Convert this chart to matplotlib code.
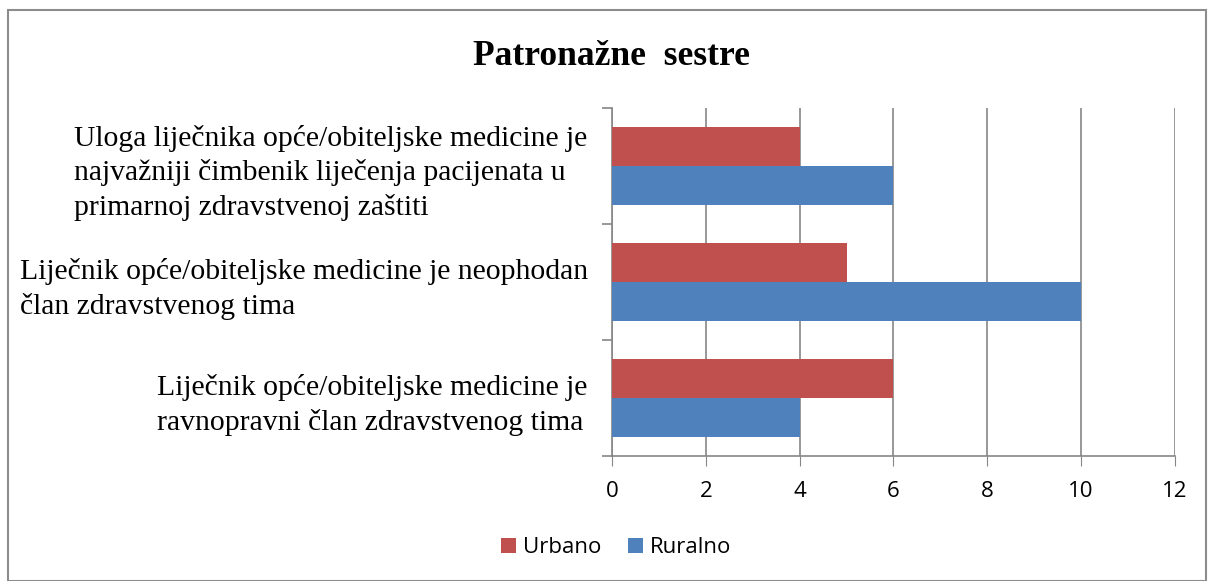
import matplotlib.pyplot as plt
import numpy as np
from matplotlib.patches import Rectangle

# Categories (bottom to top)
categories = [
    'Liječnik opće/obiteljske medicine je\nravnopravni član zdravstvenog tima',
    'Liječnik opće/obiteljske medicine je neophodan\nčlan zdravstvenog tima',
    'Uloga liječnika opće/obiteljske medicine je\nnajvažniji čimbenik liječenja pacijenata u\nprimarnoj zdravstvenoj zaštiti',
]
urbano = [6, 5, 4]
ruralno = [4, 10, 6]
x_ticks = [0, 2, 4, 6, 8, 10, 12]

red = '#C0504D'
blue = '#4F81BD'
grid_col = '#868686'

fig = plt.figure(figsize=(12.08, 5.81), dpi=100)
ax = fig.add_axes([0.5066, 0.2151, 0.4661, 0.599])

y = np.arange(len(categories))
h = 0.335
ax.barh(y + h / 2, urbano, height=h, color=red, label='Urbano', zorder=3)
ax.barh(y - h / 2, ruralno, height=h, color=blue, label='Ruralno', zorder=3)

ax.set_xlim(0, 12)
ax.set_ylim(-0.5, len(categories) - 0.5)
ax.set_xticks(x_ticks)
ax.set_xticklabels([str(v) for v in x_ticks], family='Open Sans', fontsize=16)
ax.xaxis.grid(True, color=grid_col, linewidth=1.2, zorder=0)
ax.tick_params(axis='x', length=7, color=grid_col, pad=11)

ax.set_yticks(y)
ax.set_yticklabels(categories, family='Liberation Serif', fontsize=21.3, linespacing=1.36)
for lbl in ax.get_yticklabels():
    lbl.set_multialignment('left')
ax.tick_params(axis='y', which='major', length=0, pad=17.5)
ax.set_yticks(np.arange(len(categories) + 1) - 0.5, minor=True)
ax.tick_params(axis='y', which='minor', length=7, color=grid_col, width=1.2)

for s in ['top', 'right']:
    ax.spines[s].set_visible(False)
for s in ['left', 'bottom']:
    ax.spines[s].set_color(grid_col)
    ax.spines[s].set_linewidth(1.2)

fig.text(0.506, 0.903, 'Patronažne  sestre', ha='center', va='center',
         family='Liberation Serif', fontsize=25.5, fontweight='bold')

leg = fig.legend(loc='center', bbox_to_anchor=(0.51, 0.057), ncol=2, frameon=False,
                 prop={'family': 'Open Sans', 'size': 16}, handlelength=0.7,
                 handleheight=0.7, handletextpad=0.3, columnspacing=1.2)

fig.patches.append(Rectangle((0.007, 0.0), 0.991, 0.983, transform=fig.transFigure,
                             fill=False, edgecolor='#8C8C8C', linewidth=1.5))

fig.savefig('out.png', dpi=100)
